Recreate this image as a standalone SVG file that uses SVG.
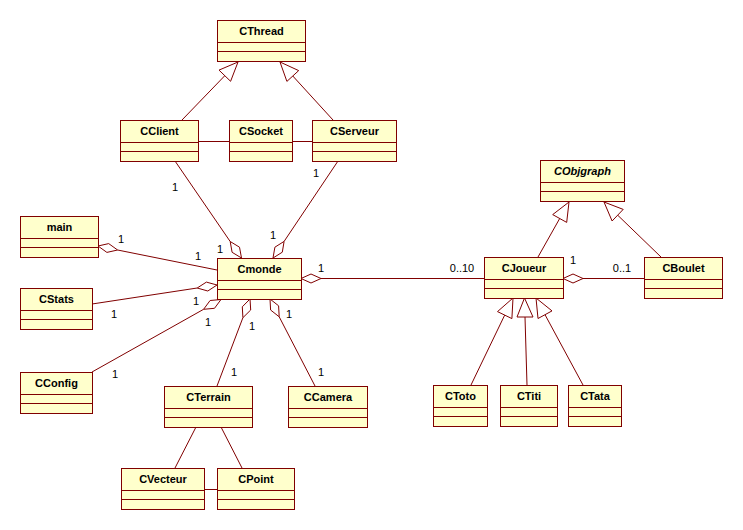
<svg xmlns="http://www.w3.org/2000/svg" width="743" height="530" viewBox="0 0 743 530">
<style>
.box{fill:#ffffcc;stroke:#800000;stroke-width:1}
.sep{stroke:#800000;stroke-width:1}
.nm{font-family:"Liberation Sans",Arial,sans-serif;font-size:11px;font-weight:bold;fill:#000;text-anchor:middle}
.it{font-style:italic}
.ln{stroke:#800000;stroke-width:1;fill:none}
.dia{fill:#ffffff;stroke:#800000;stroke-width:1}
.tri{fill:#ffffff;stroke:#800000;stroke-width:1}
.lb{font-family:"Liberation Sans",Arial,sans-serif;font-size:11px;fill:#000;text-anchor:middle}
</style>
<rect width="743" height="530" fill="#ffffff"/>
<g id="connectors">
<!-- generalizations -->
<line class="ln" x1="182" y1="120" x2="224.8" y2="75.7"/>
<polygon class="tri" points="238,62 230.6,81.3 219,70.1"/>
<line class="ln" x1="333" y1="120" x2="292.8" y2="76"/>
<polygon class="tri" points="280,62 286.9,81.4 298.7,70.6"/>
<line class="ln" x1="538" y1="257" x2="559.7" y2="218.5"/>
<polygon class="tri" points="569,202 566.7,222.4 552.7,214.6"/>
<line class="ln" x1="661" y1="257" x2="617.7" y2="215.2"/>
<polygon class="tri" points="604,202 612.1,221 623.2,209.4"/>
<line class="ln" x1="471" y1="385" x2="504.7" y2="315.1"/>
<polygon class="tri" points="513,298 511.9,318.6 497.5,311.6"/>
<line class="ln" x1="527" y1="385" x2="525" y2="317"/>
<polygon class="tri" points="524.5,298 517,317 533,317"/>
<line class="ln" x1="583" y1="385" x2="545" y2="314.7"/>
<polygon class="tri" points="536,298 538,318.5 552,310.9"/>
<!-- associations -->
<line class="ln" x1="198" y1="141.5" x2="229" y2="141.5"/>
<line class="ln" x1="292" y1="141.5" x2="312" y2="141.5"/>
<line class="ln" x1="204" y1="489.5" x2="217" y2="489.5"/>
<line class="ln" x1="196" y1="427" x2="175" y2="468"/>
<line class="ln" x1="221" y1="427" x2="242" y2="468"/>
<!-- aggregations -->
<line class="ln" x1="117.6" y1="250" x2="217" y2="270"/>
<polygon class="dia" points="98,246 108.7,243.6 117.6,250 106.9,252.4"/>
<line class="ln" x1="197.2" y1="288" x2="92" y2="304"/>
<polygon class="dia" points="217,285 207.8,291 197.2,288 206.4,282.1"/>
<line class="ln" x1="203.6" y1="309.3" x2="92" y2="372"/>
<polygon class="dia" points="221,299.5 214.5,308.3 203.6,309.3 210.1,300.5"/>
<line class="ln" x1="242.9" y1="317.7" x2="217" y2="386"/>
<polygon class="dia" points="250,299 250.7,310 242.9,317.7 242.3,306.8"/>
<line class="ln" x1="279.2" y1="316.8" x2="315" y2="386"/>
<polygon class="dia" points="270,299 278.6,305.8 279.2,316.8 270.6,310"/>
<line class="ln" x1="230.2" y1="241.5" x2="175" y2="161"/>
<polygon class="dia" points="241.5,258 239.5,247.2 230.2,241.5 232.1,252.3"/>
<line class="ln" x1="284.1" y1="241.4" x2="338" y2="161"/>
<polygon class="dia" points="273,258 274.9,247.2 284.1,241.4 282.3,252.2"/>
<line class="ln" x1="321" y1="278.5" x2="484" y2="278.5"/>
<polygon class="dia" points="301,278.5 311,274 321,278.5 311,283"/>
<line class="ln" x1="583" y1="278.5" x2="644" y2="278.5"/>
<polygon class="dia" points="563,278.5 573,274 583,278.5 573,283"/>
<!-- multiplicities -->
<text class="lb" x="121" y="243">1</text>
<text class="lb" x="198" y="260">1</text>
<text class="lb" x="114" y="318">1</text>
<text class="lb" x="196" y="305">1</text>
<text class="lb" x="208" y="326">1</text>
<text class="lb" x="115" y="378">1</text>
<text class="lb" x="252" y="330">1</text>
<text class="lb" x="234" y="376">1</text>
<text class="lb" x="289" y="318">1</text>
<text class="lb" x="321" y="376">1</text>
<text class="lb" x="175" y="191">1</text>
<text class="lb" x="220" y="253">1</text>
<text class="lb" x="316" y="177">1</text>
<text class="lb" x="273" y="239">1</text>
<text class="lb" x="321" y="272">1</text>
<text class="lb" x="462" y="272">0..10</text>
<text class="lb" x="573" y="264">1</text>
<text class="lb" x="622" y="272">0..1</text>
</g>
<g id="CThread"><rect class="box" x="217.5" y="20.5" width="88" height="41"/><line class="sep" x1="217.5" y1="42.5" x2="305.5" y2="42.5"/><line class="sep" x1="217.5" y1="51.5" x2="305.5" y2="51.5"/><text class="nm" x="261.5" y="35">CThread</text></g>
<g id="CClient"><rect class="box" x="120.5" y="120.5" width="78" height="41"/><line class="sep" x1="120.5" y1="142.5" x2="198.5" y2="142.5"/><line class="sep" x1="120.5" y1="151.5" x2="198.5" y2="151.5"/><text class="nm" x="159.5" y="135">CClient</text></g>
<g id="CSocket"><rect class="box" x="229.5" y="120.5" width="63" height="41"/><line class="sep" x1="229.5" y1="142.5" x2="292.5" y2="142.5"/><line class="sep" x1="229.5" y1="151.5" x2="292.5" y2="151.5"/><text class="nm" x="261" y="135">CSocket</text></g>
<g id="CServeur"><rect class="box" x="312.5" y="120.5" width="84" height="41"/><line class="sep" x1="312.5" y1="142.5" x2="396.5" y2="142.5"/><line class="sep" x1="312.5" y1="151.5" x2="396.5" y2="151.5"/><text class="nm" x="354.5" y="135">CServeur</text></g>
<g id="main"><rect class="box" x="20.5" y="216.5" width="78" height="41"/><line class="sep" x1="20.5" y1="238.5" x2="98.5" y2="238.5"/><line class="sep" x1="20.5" y1="247.5" x2="98.5" y2="247.5"/><text class="nm" x="59.5" y="231">main</text></g>
<g id="CStats"><rect class="box" x="20.5" y="288.5" width="72" height="41"/><line class="sep" x1="20.5" y1="310.5" x2="92.5" y2="310.5"/><line class="sep" x1="20.5" y1="319.5" x2="92.5" y2="319.5"/><text class="nm" x="56.5" y="303">CStats</text></g>
<g id="Cmonde"><rect class="box" x="217.5" y="258.5" width="84" height="41"/><line class="sep" x1="217.5" y1="280.5" x2="301.5" y2="280.5"/><line class="sep" x1="217.5" y1="289.5" x2="301.5" y2="289.5"/><text class="nm" x="259.5" y="273">Cmonde</text></g>
<g id="CConfig"><rect class="box" x="20.5" y="372.5" width="72" height="41"/><line class="sep" x1="20.5" y1="394.5" x2="92.5" y2="394.5"/><line class="sep" x1="20.5" y1="403.5" x2="92.5" y2="403.5"/><text class="nm" x="56.5" y="387">CConfig</text></g>
<g id="CTerrain"><rect class="box" x="164.5" y="386.5" width="88" height="41"/><line class="sep" x1="164.5" y1="408.5" x2="252.5" y2="408.5"/><line class="sep" x1="164.5" y1="417.5" x2="252.5" y2="417.5"/><text class="nm" x="208.5" y="401">CTerrain</text></g>
<g id="CCamera"><rect class="box" x="288.5" y="386.5" width="79" height="41"/><line class="sep" x1="288.5" y1="408.5" x2="367.5" y2="408.5"/><line class="sep" x1="288.5" y1="417.5" x2="367.5" y2="417.5"/><text class="nm" x="328" y="401">CCamera</text></g>
<g id="CVecteur"><rect class="box" x="121.5" y="468.5" width="83" height="41"/><line class="sep" x1="121.5" y1="490.5" x2="204.5" y2="490.5"/><line class="sep" x1="121.5" y1="499.5" x2="204.5" y2="499.5"/><text class="nm" x="163" y="483">CVecteur</text></g>
<g id="CPoint"><rect class="box" x="217.5" y="468.5" width="77" height="41"/><line class="sep" x1="217.5" y1="490.5" x2="294.5" y2="490.5"/><line class="sep" x1="217.5" y1="499.5" x2="294.5" y2="499.5"/><text class="nm" x="256" y="483">CPoint</text></g>
<g id="CObjgraph"><rect class="box" x="540.5" y="160.5" width="84" height="41"/><line class="sep" x1="540.5" y1="182.5" x2="624.5" y2="182.5"/><line class="sep" x1="540.5" y1="191.5" x2="624.5" y2="191.5"/><text class="nm it" x="582.5" y="175">CObjgraph</text></g>
<g id="CJoueur"><rect class="box" x="484.5" y="257.5" width="79" height="41"/><line class="sep" x1="484.5" y1="279.5" x2="563.5" y2="279.5"/><line class="sep" x1="484.5" y1="288.5" x2="563.5" y2="288.5"/><text class="nm" x="524" y="272">CJoueur</text></g>
<g id="CBoulet"><rect class="box" x="644.5" y="257.5" width="78" height="41"/><line class="sep" x1="644.5" y1="279.5" x2="722.5" y2="279.5"/><line class="sep" x1="644.5" y1="288.5" x2="722.5" y2="288.5"/><text class="nm" x="683.5" y="272">CBoulet</text></g>
<g id="CToto"><rect class="box" x="433.5" y="385.5" width="54" height="41"/><line class="sep" x1="433.5" y1="407.5" x2="487.5" y2="407.5"/><line class="sep" x1="433.5" y1="416.5" x2="487.5" y2="416.5"/><text class="nm" x="460.5" y="400">CToto</text></g>
<g id="CTiti"><rect class="box" x="500.5" y="385.5" width="57" height="41"/><line class="sep" x1="500.5" y1="407.5" x2="557.5" y2="407.5"/><line class="sep" x1="500.5" y1="416.5" x2="557.5" y2="416.5"/><text class="nm" x="529" y="400">CTiti</text></g>
<g id="CTata"><rect class="box" x="568.5" y="385.5" width="53" height="41"/><line class="sep" x1="568.5" y1="407.5" x2="621.5" y2="407.5"/><line class="sep" x1="568.5" y1="416.5" x2="621.5" y2="416.5"/><text class="nm" x="595" y="400">CTata</text></g>
</svg>
